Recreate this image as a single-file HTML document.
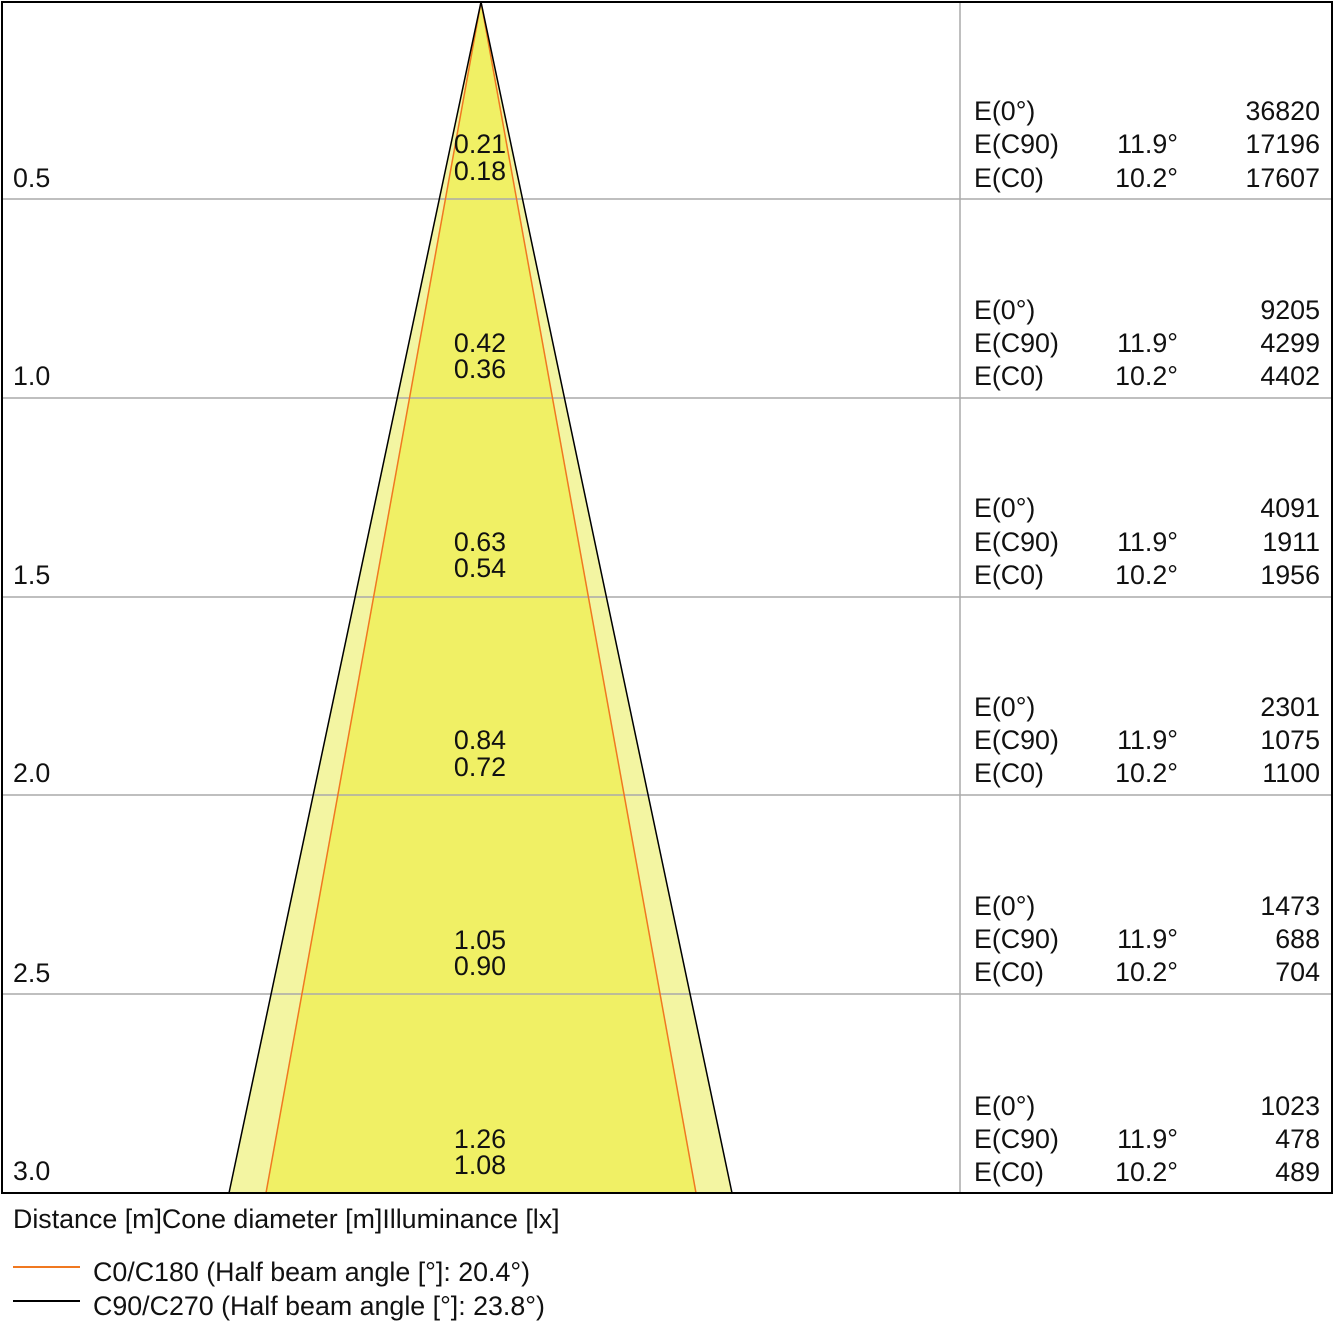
<!DOCTYPE html>
<html><head><meta charset="utf-8"><style>body{margin:0;background:#fff}svg{display:block}text{font-family:"Liberation Sans",Arial,sans-serif;font-size:26.8px;fill:#111}</style></head><body>
<svg width="1334" height="1334" viewBox="0 0 1334 1334" xmlns="http://www.w3.org/2000/svg">
<rect width="1334" height="1334" fill="#fff"/>
<polygon points="481,2 229,1193 732,1193" fill="#f3f5a2"/>
<polygon points="481,2 266,1193 696,1193" fill="#f0f065"/>
<g stroke="#aaa" stroke-width="1.5">
<line x1="2" y1="199" x2="1332" y2="199"/><line x1="2" y1="398" x2="1332" y2="398"/><line x1="2" y1="597" x2="1332" y2="597"/><line x1="2" y1="795" x2="1332" y2="795"/><line x1="2" y1="994" x2="1332" y2="994"/><line x1="960" y1="2" x2="960" y2="1193"/>
</g>
<line x1="481" y1="2" x2="266" y2="1193" stroke="#f07820" stroke-width="1.5"/>
<line x1="481" y1="2" x2="696" y2="1193" stroke="#f07820" stroke-width="1.5"/>
<line x1="481" y1="2" x2="229" y2="1193" stroke="#000" stroke-width="1.5"/>
<line x1="481" y1="2" x2="732" y2="1193" stroke="#000" stroke-width="1.5"/>
<rect x="2" y="2" width="1330" height="1191" fill="none" stroke="#000" stroke-width="2"/>
<g>
<text x="13" y="187">0.5</text><text x="13" y="385">1.0</text><text x="13" y="584">1.5</text><text x="13" y="782">2.0</text><text x="13" y="982">2.5</text><text x="13" y="1180">3.0</text>
</g>
<g text-anchor="middle">
<text x="480" y="153">0.21</text><text x="480" y="180">0.18</text>
<text x="480" y="352">0.42</text><text x="480" y="378">0.36</text>
<text x="480" y="551">0.63</text><text x="480" y="577">0.54</text>
<text x="480" y="749">0.84</text><text x="480" y="776">0.72</text>
<text x="480" y="949">1.05</text><text x="480" y="975">0.90</text>
<text x="480" y="1148">1.26</text><text x="480" y="1174">1.08</text>
</g>
<g>
<text x="974" y="120">E(0°)</text><text x="974" y="153">E(C90)</text><text x="974" y="187">E(C0)</text>
<text x="974" y="319">E(0°)</text><text x="974" y="352">E(C90)</text><text x="974" y="385">E(C0)</text>
<text x="974" y="517">E(0°)</text><text x="974" y="551">E(C90)</text><text x="974" y="584">E(C0)</text>
<text x="974" y="716">E(0°)</text><text x="974" y="749">E(C90)</text><text x="974" y="782">E(C0)</text>
<text x="974" y="915">E(0°)</text><text x="974" y="948">E(C90)</text><text x="974" y="981">E(C0)</text>
<text x="974" y="1115">E(0°)</text><text x="974" y="1148">E(C90)</text><text x="974" y="1181">E(C0)</text>
</g>
<g text-anchor="end">
<text x="1178" y="153">11.9°</text><text x="1178" y="187">10.2°</text>
<text x="1178" y="352">11.9°</text><text x="1178" y="385">10.2°</text>
<text x="1178" y="551">11.9°</text><text x="1178" y="584">10.2°</text>
<text x="1178" y="749">11.9°</text><text x="1178" y="782">10.2°</text>
<text x="1178" y="948">11.9°</text><text x="1178" y="981">10.2°</text>
<text x="1178" y="1148">11.9°</text><text x="1178" y="1181">10.2°</text>
<text x="1320" y="120">36820</text><text x="1320" y="153">17196</text><text x="1320" y="187">17607</text>
<text x="1320" y="319">9205</text><text x="1320" y="352">4299</text><text x="1320" y="385">4402</text>
<text x="1320" y="517">4091</text><text x="1320" y="551">1911</text><text x="1320" y="584">1956</text>
<text x="1320" y="716">2301</text><text x="1320" y="749">1075</text><text x="1320" y="782">1100</text>
<text x="1320" y="915">1473</text><text x="1320" y="948">688</text><text x="1320" y="981">704</text>
<text x="1320" y="1115">1023</text><text x="1320" y="1148">478</text><text x="1320" y="1181">489</text>
</g>
<text x="13" y="1228">Distance [m]Cone diameter [m]Illuminance [lx]</text>
<line x1="13" y1="1267" x2="80" y2="1267" stroke="#f07820" stroke-width="2"/>
<line x1="13" y1="1301" x2="80" y2="1301" stroke="#000" stroke-width="2"/>
<text x="93" y="1281">C0/C180 (Half beam angle [°]: 20.4°)</text>
<text x="93" y="1315">C90/C270 (Half beam angle [°]: 23.8°)</text>
</svg>
</body></html>
